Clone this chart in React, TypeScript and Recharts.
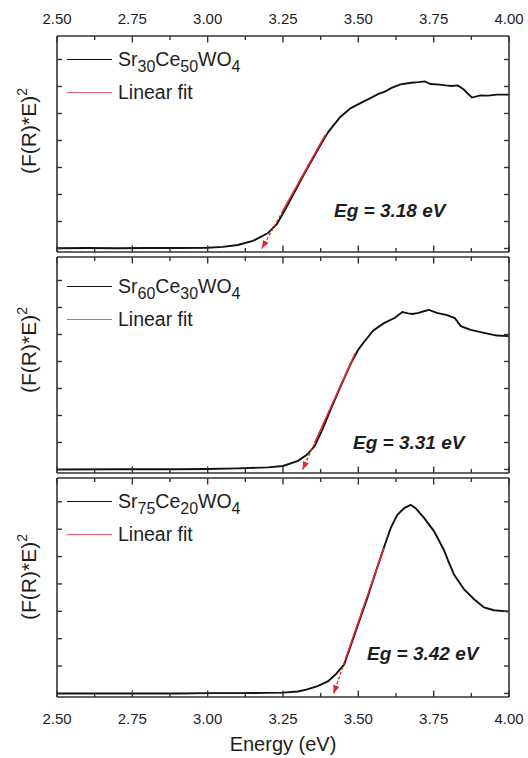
import React from 'react';
import { LineChart, Line, XAxis, YAxis, Legend } from 'recharts';

// ---------- data ----------
const energyTicks = [2.5, 2.625, 2.75, 2.875, 3.0, 3.125, 3.25, 3.375, 3.5, 3.625, 3.75, 3.875, 4.0];
const majorTicks = [2.5, 2.75, 3.0, 3.25, 3.5, 3.75, 4.0];
const valueTicks = [0, 1, 2, 3, 4, 5, 6, 7];
const energyDomain = [2.5, 4.0];
const valueDomain = [-0.13, 7.87];

const sampleNames = ['Sr30Ce50WO4', 'Sr60Ce30WO4', 'Sr75Ce20WO4'];
const fitName = 'Linear fit';
const bandGaps = [3.18, 3.31, 3.42];

const energy1 = [2.5, 2.6, 2.7, 2.8, 2.9, 3.0, 3.05, 3.1, 3.15, 3.2, 3.23, 3.26, 3.29, 3.32, 3.35, 3.38, 3.4, 3.44, 3.475, 3.52, 3.545, 3.565, 3.59, 3.61, 3.64, 3.675, 3.7, 3.72, 3.74, 3.77, 3.79, 3.81, 3.83, 3.85, 3.865, 3.877, 3.905, 3.93, 3.96, 4.0];
const signal1 = [0.01, 0.02, 0.01, 0.02, 0.02, 0.03, 0.06, 0.13, 0.28, 0.57, 0.91, 1.5, 2.13, 2.76, 3.35, 3.94, 4.31, 4.87, 5.2, 5.46, 5.6, 5.72, 5.82, 5.95, 6.08, 6.14, 6.16, 6.19, 6.09, 6.07, 6.04, 6.02, 6.04, 5.89, 5.72, 5.59, 5.67, 5.66, 5.7, 5.7];

const energy2 = [2.5, 2.7, 2.9, 3.0, 3.1, 3.2, 3.25, 3.3, 3.33, 3.355, 3.38, 3.41, 3.44, 3.475, 3.5, 3.52, 3.55, 3.585, 3.62, 3.646, 3.665, 3.68, 3.7, 3.72, 3.735, 3.76, 3.795, 3.82, 3.84, 3.873, 3.917, 3.96, 4.0];
const signal2 = [0.0, 0.01, 0.01, 0.02, 0.04, 0.08, 0.13, 0.32, 0.55, 0.87, 1.46, 2.27, 3.05, 3.92, 4.44, 4.74, 5.15, 5.42, 5.61, 5.83, 5.78, 5.76, 5.8, 5.87, 5.91, 5.8, 5.72, 5.61, 5.31, 5.17, 5.06, 4.96, 4.94];

const energy3 = [2.5, 2.7, 2.9, 3.0, 3.1, 3.19, 3.25, 3.3, 3.33, 3.365, 3.4, 3.425, 3.453, 3.475, 3.502, 3.53, 3.558, 3.585, 3.607, 3.629, 3.652, 3.674, 3.69, 3.718, 3.751, 3.784, 3.8, 3.818, 3.851, 3.884, 3.917, 3.95, 4.0];
const signal3 = [0.0, 0.0, 0.0, 0.01, 0.01, 0.02, 0.03, 0.07, 0.15, 0.27, 0.45, 0.7, 1.06, 1.75, 2.61, 3.49, 4.45, 5.33, 6.03, 6.52, 6.77, 6.89, 6.77, 6.41, 5.93, 5.24, 4.8, 4.33, 3.8, 3.44, 3.14, 3.04, 2.99];

// linear fits: [x-intercept (Eg), start of solid part, top end]
const fitEnergy1 = [3.18, 3.25, 3.39];
const fitSignal1 = [0.0, 1.4, 4.2];
const fitEnergy2 = [3.315, 3.355, 3.49];
const fitSignal2 = [0.0, 0.98, 4.31];
const fitEnergy3 = [3.418, 3.458, 3.585];
const fitSignal3 = [0.0, 1.27, 5.31];

const energies = [energy1, energy2, energy3];
const signals = [signal1, signal2, signal3];
const fitEnergies = [fitEnergy1, fitEnergy2, fitEnergy3];
const fitSignals = [fitSignal1, fitSignal2, fitSignal3];

// ---------- layout / style ----------
const FONT = '"Liberation Sans", Arial, Helvetica, sans-serif';
const INK = '#1e1e1e';
const FRAME = '#333333';
const RED = '#e3262b';
const W = 528;
const PLOT_LEFT = 57;
const PLOT_RIGHT = 509;

const panels = [
  { plotTop: 36, plotH: 216, topAxisH: 36, bottomAxisH: 4, legendTop: 43.4, yLabelY: 131, eg: { left: 334, top: 201 } },
  { plotTop: 257, plotH: 216, topAxisH: 4, bottomAxisH: 4, legendTop: 270.4, yLabelY: 349.5, eg: { left: 353, top: 432.5 } },
  { plotTop: 478, plotH: 219, topAxisH: 4, bottomAxisH: 60, legendTop: 485.4, yLabelY: 576.5, eg: { left: 367, top: 643.5 } },
];

const isMajor = (v: number) => majorTicks.some((m) => Math.abs(m - v) < 1e-6);

const makeXTick = (side: 'top' | 'bottom', showLabel: boolean) => (props: any) => {
  const { x, y, payload } = props;
  const v = payload.value;
  const major = isMajor(v);
  const len = major ? 6.5 : 4;
  const dir = side === 'bottom' ? -1 : 1;
  return (
    <g>
      <line x1={x} y1={y} x2={x} y2={y + dir * len} stroke={FRAME} strokeWidth={1.4} />
      {showLabel && major && (
        <text
          x={x}
          y={side === 'bottom' ? y + 27 : y - 12}
          textAnchor="middle"
          fontSize={15}
          fontFamily={FONT}
          fill={INK}
        >
          {v.toFixed(2)}
        </text>
      )}
    </g>
  );
};

const makeYTick = (side: 'left' | 'right') => (props: any) => {
  const { x, y } = props;
  const dir = side === 'left' ? 1 : -1;
  return (
    <g>
      <line x1={x} y1={y} x2={x + dir * 5} y2={y} stroke={FRAME} strokeWidth={1.4} />
    </g>
  );
};

const arrowDot = (props: any) => {
  const { cx, cy, index, points } = props;
  if (index !== 0 || cx == null || cy == null) return <g key={`d${index}`} />;
  let ang = Math.PI / 2;
  if (points && points.length > 1) {
    ang = Math.atan2(points[0].y - points[1].y, points[0].x - points[1].x);
  }
  const len = 8;
  const hw = 3.2;
  const bx = cx - Math.cos(ang) * len;
  const by = cy - Math.sin(ang) * len;
  const px = -Math.sin(ang) * hw;
  const py = Math.cos(ang) * hw;
  const d = `M${cx},${cy} L${bx + px},${by + py} L${bx - px},${by - py} Z`;
  return <path key={`d${index}`} d={d} fill={RED} stroke="none" />;
};

const Formula = ({ text }: { text: string }) => {
  const parts = text.split(/(\d+)/).filter((p) => p.length > 0);
  return (
    <span>
      {parts.map((p, i) =>
        /^\d+$/.test(p) ? (
          <span key={i} style={{ fontSize: 16, position: 'relative', top: 6.5 }}>
            {p}
          </span>
        ) : (
          <span key={i}>{p}</span>
        )
      )}
    </span>
  );
};

const legendContent = (sample: string) => (props: any) => {
  const order = [sample, fitName];
  const items = (props.payload || [])
    .filter((e: any) => order.includes(e.value))
    .sort((a: any, b: any) => order.indexOf(a.value) - order.indexOf(b.value));
  return (
    <div style={{ fontFamily: FONT, fontSize: 19.5, color: INK }}>
      {items.map((e: any) => (
        <div key={e.value} style={{ display: 'flex', alignItems: 'center', height: 33, lineHeight: '33px', whiteSpace: 'nowrap' }}>
          <span
            style={{
              display: 'inline-block',
              width: 45,
              height: 0,
              borderTop: `${e.value === fitName ? 1 : 1.6}px solid ${e.color}`,
              opacity: e.value === fitName ? 0.75 : 1,
            }}
          />
          <span style={{ marginLeft: 6 }}>
            {e.value === fitName ? e.value : <Formula text={e.value} />}
          </span>
        </div>
      ))}
    </div>
  );
};

function Panel({ i }: { i: number }) {
  const L = panels[i];
  const chartTop = L.plotTop - L.topAxisH;
  const chartH = L.topAxisH + L.plotH + L.bottomAxisH;
  const curve = energies[i].map((e, k) => ({ e, v: signals[i][k] }));
  const fe = fitEnergies[i];
  const fs = fitSignals[i];
  const fitSolid = [{ e: fe[1], v: fs[1] }, { e: fe[2], v: fs[2] }];
  const fitDash = [{ e: fe[0], v: fs[0] }, { e: fe[1], v: fs[1] }];
  const axisLine = { stroke: FRAME, strokeWidth: 1.6 };
  return (
    <div style={{ position: 'absolute', left: 0, top: chartTop }}>
      <LineChart width={W} height={chartH} margin={{ top: 0, right: 0, bottom: 0, left: 0 }}>
        <XAxis
          xAxisId="b"
          type="number"
          dataKey="e"
          orientation="bottom"
          domain={energyDomain}
          allowDataOverflow
          ticks={energyTicks}
          interval={0}
          height={L.bottomAxisH}
          tickSize={0}
          tickMargin={0}
          tickLine={false}
          axisLine={axisLine}
          tick={makeXTick('bottom', i === 2)}
        />
        <XAxis
          xAxisId="t"
          type="number"
          dataKey="e"
          orientation="top"
          domain={energyDomain}
          allowDataOverflow
          ticks={energyTicks}
          interval={0}
          height={L.topAxisH}
          tickSize={0}
          tickMargin={0}
          tickLine={false}
          axisLine={axisLine}
          tick={makeXTick('top', i === 0)}
        />
        <YAxis
          yAxisId="l"
          type="number"
          orientation="left"
          domain={valueDomain}
          allowDataOverflow
          ticks={valueTicks}
          interval={0}
          width={PLOT_LEFT}
          tickSize={0}
          tickMargin={0}
          tickLine={false}
          axisLine={axisLine}
          tick={makeYTick('left')}
        />
        <YAxis
          yAxisId="r"
          type="number"
          orientation="right"
          domain={valueDomain}
          allowDataOverflow
          ticks={valueTicks}
          interval={0}
          width={W - PLOT_RIGHT}
          tickSize={0}
          tickMargin={0}
          tickLine={false}
          axisLine={axisLine}
          tick={makeYTick('right')}
        />
        <Line
          xAxisId="b"
          yAxisId="l"
          data={curve}
          dataKey="v"
          name={sampleNames[i]}
          type="linear"
          stroke="#111111"
          strokeWidth={1.9}
          dot={false}
          activeDot={false}
          isAnimationActive={false}
        />
        <Line
          xAxisId="t"
          yAxisId="r"
          data={fitSolid}
          dataKey="v"
          name={fitName}
          type="linear"
          stroke={RED}
          strokeWidth={1.6}
          dot={false}
          activeDot={false}
          isAnimationActive={false}
        />
        <Line
          xAxisId="t"
          yAxisId="r"
          data={fitDash}
          dataKey="v"
          name="fit extrapolation"
          legendType="none"
          type="linear"
          stroke={RED}
          strokeWidth={1.3}
          strokeDasharray="3 2"
          dot={arrowDot}
          activeDot={false}
          isAnimationActive={false}
        />
        <Legend
          layout="vertical"
          align="center"
          verticalAlign="middle"
          wrapperStyle={{ left: 67, top: L.legendTop - chartTop, width: 'auto', height: 'auto' }}
          content={legendContent(sampleNames[i])}
        />
      </LineChart>
    </div>
  );
}

export default function App() {
  return (
    <div
      style={{
        position: 'absolute',
        left: 0,
        top: 0,
        width: W,
        height: 758,
        background: '#ffffff',
        fontFamily: FONT,
        color: INK,
        overflow: 'hidden',
      }}
    >
      {panels.map((L, i) => (
        <React.Fragment key={i}>
          <Panel i={i} />
          <div
            style={{
              position: 'absolute',
              left: 28,
              top: L.yLabelY,
              transform: 'translate(-50%, -50%) rotate(-90deg)',
              whiteSpace: 'nowrap',
              fontSize: 21,
              lineHeight: 1,
            }}
          >
            (F(R)*E)
            <span style={{ fontSize: 14, position: 'relative', top: -9 }}>2</span>
          </div>
          <div
            style={{
              position: 'absolute',
              left: L.eg.left,
              top: L.eg.top,
              fontSize: 19,
              lineHeight: 1,
              fontWeight: 'bold',
              fontStyle: 'italic',
              whiteSpace: 'nowrap',
            }}
          >
            Eg = {bandGaps[i].toFixed(2)} eV
          </div>
        </React.Fragment>
      ))}
      <div
        style={{
          position: 'absolute',
          left: (PLOT_LEFT + PLOT_RIGHT) / 2,
          top: 733.5,
          transform: 'translateX(-50%)',
          fontSize: 20,
          lineHeight: 1,
          whiteSpace: 'nowrap',
        }}
      >
        Energy (eV)
      </div>
    </div>
  );
}
